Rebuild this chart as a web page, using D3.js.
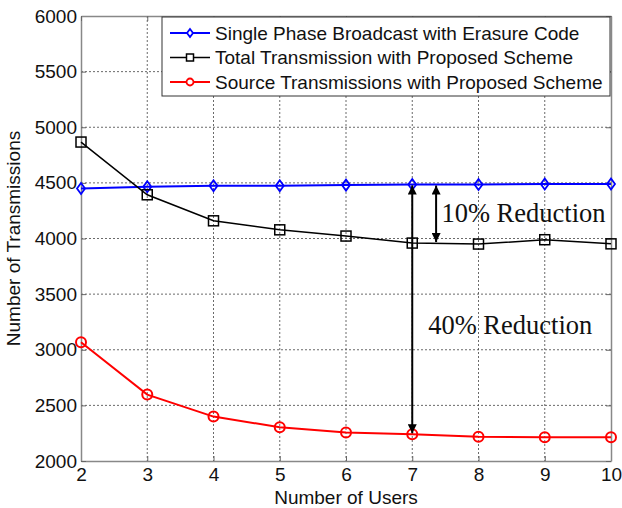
<!DOCTYPE html>
<html>
<head>
<meta charset="utf-8">
<script src="https://cdn.jsdelivr.net/npm/d3@7"></script>
<style>
html, body { margin: 0; padding: 0; background: #fff; }
svg { display: block; }
</style>
</head>
<body>
<div id="chart"></div>
<script>
// ---- Data ----
const users = [2, 3, 4, 5, 6, 7, 8, 9, 10];
const singlePhase = [4450, 4465, 4475, 4475, 4480, 4485, 4485, 4490, 4490];
const totalProposed = [4867, 4393, 4159, 4078, 4022, 3959, 3950, 3989, 3952];
const sourceProposed = [3068, 2597, 2399, 2304, 2256, 2241, 2219, 2214, 2214];
const seriesNames = [
  "Single Phase Broadcast with Erasure Code",
  "Total Transmission with Proposed Scheme",
  "Source Transmissions with Proposed Scheme"
];
const xTicks = [2, 3, 4, 5, 6, 7, 8, 9, 10];
const yTicks = [2000, 2500, 3000, 3500, 4000, 4500, 5000, 5500, 6000];
// annotations (data units)
const annotations = [
  { x: 7, y0: 4485, y1: 2241, label: "40% Reduction", lx: 7.24, ly: 3140 },
  { x: 7.36, y0: 4485, y1: 3959, label: "10% Reduction", lx: 7.44, ly: 4150 }
];

// ---- Layout ----
const W = 622, H = 508;
const margin = { left: 81, right: 11, top: 16, bottom: 47 };
const iw = W - margin.left - margin.right;
const ih = H - margin.top - margin.bottom;
const SANS = "'Liberation Sans', Arial, sans-serif";
const SERIF = "'Liberation Serif', 'Times New Roman', serif";

const svg = d3.select("#chart").append("svg").attr("width", W).attr("height", H)
  .style("font-family", SANS);
const defs = svg.append("defs");
defs.append("marker").attr("id", "ah").attr("viewBox", "0 0 10 10")
  .attr("refX", 10).attr("refY", 5).attr("markerWidth", 10).attr("markerHeight", 9)
  .attr("markerUnits", "userSpaceOnUse").attr("orient", "auto-start-reverse")
  .append("path").attr("d", "M0,0 L10,5 L0,10 Z").attr("fill", "#000");

const g = svg.append("g").attr("transform", `translate(${margin.left},${margin.top})`);

const x = d3.scaleLinear().domain([2, 10]).range([0, iw]);
const y = d3.scaleLinear().domain([2000, 6000]).range([ih, 0]);

// grid
g.append("g").selectAll("line").data(xTicks.slice(1, -1)).join("line")
  .attr("x1", d => x(d)).attr("x2", d => x(d)).attr("y1", 0).attr("y2", ih)
  .attr("stroke", "#444").attr("stroke-width", 0.8).attr("stroke-dasharray", "2,2");
g.append("g").selectAll("line").data(yTicks.slice(1, -1)).join("line")
  .attr("y1", d => y(d)).attr("y2", d => y(d)).attr("x1", 0).attr("x2", iw)
  .attr("stroke", "#444").attr("stroke-width", 0.8).attr("stroke-dasharray", "2,2");

// axes
const axB = g.append("g").attr("transform", `translate(0,${ih})`)
  .call(d3.axisBottom(x).tickValues(xTicks).tickFormat(d3.format("d")).tickSizeInner(-5).tickSizeOuter(0).tickPadding(7));
const axL = g.append("g")
  .call(d3.axisLeft(y).tickValues(yTicks).tickFormat(d3.format("d")).tickSizeInner(-5).tickSizeOuter(0).tickPadding(4));
const axT = g.append("g")
  .call(d3.axisTop(x).tickValues(xTicks).tickFormat("").tickSizeInner(-5).tickSizeOuter(0));
const axR = g.append("g").attr("transform", `translate(${iw},0)`)
  .call(d3.axisRight(y).tickValues(yTicks).tickFormat("").tickSizeInner(-5).tickSizeOuter(0));
[axB, axL, axT, axR].forEach(a => {
  a.select(".domain").attr("stroke", "#888").attr("stroke-width", 1.5);
  a.selectAll(".tick line").attr("stroke", "#666");
  a.selectAll("text").attr("font-size", 19).attr("fill", "#111")
    .style("font-family", SANS);
});
axB.selectAll("text").attr("dy", "0.71em");
axL.selectAll("text").attr("dy", "0.32em");

// series
const series = [
  { name: seriesNames[0], vals: singlePhase, color: "#0000ff", w: 2, marker: "diamond" },
  { name: seriesNames[1], vals: totalProposed, color: "#000000", w: 1.5, marker: "square" },
  { name: seriesNames[2], vals: sourceProposed, color: "#ff0000", w: 2, marker: "circle" }
];
function drawMarker(sel, type, color) {
  if (type === "diamond") {
    sel.append("path").attr("d", "M0,-5.5 L4,0 L0,5.5 L-4,0 Z")
      .attr("fill", "none").attr("stroke", color).attr("stroke-width", 1.8);
  } else if (type === "square") {
    sel.append("rect").attr("x", -5).attr("y", -5).attr("width", 10).attr("height", 10)
      .attr("fill", "none").attr("stroke", color).attr("stroke-width", 1.5);
  } else {
    sel.append("circle").attr("r", 5)
      .attr("fill", "none").attr("stroke", color).attr("stroke-width", 2);
  }
}
const line = d3.line().x(d => x(d[0])).y(d => y(d[1]));
series.forEach(s => {
  const pts = users.map((u, i) => [u, s.vals[i]]);
  g.append("path").datum(pts).attr("d", line)
    .attr("fill", "none").attr("stroke", s.color).attr("stroke-width", s.w);
  g.append("g").selectAll("g").data(pts).join("g")
    .attr("transform", d => `translate(${x(d[0])},${y(d[1])})`)
    .each(function() { drawMarker(d3.select(this), s.marker, s.color); });
});

// annotations
annotations.forEach(a => {
  g.append("line").attr("x1", x(a.x)).attr("x2", x(a.x))
    .attr("y1", y(a.y0) + 1).attr("y2", y(a.y1) - 1)
    .attr("stroke", "#000").attr("stroke-width", 2)
    .attr("marker-start", "url(#ah)").attr("marker-end", "url(#ah)");
  g.append("text").attr("x", x(a.lx)).attr("y", y(a.ly))
    .style("font-family", SERIF)
    .attr("font-size", 26.5).attr("fill", "#111").text(a.label);
});

// legend
const lg = svg.append("g").attr("transform", "translate(162,17)");
lg.append("rect").attr("width", 448).attr("height", 79)
  .attr("fill", "#fff").attr("stroke", "#333").attr("stroke-width", 1);
series.forEach((s, i) => {
  const yy = 16 + i * 24.5;
  lg.append("line").attr("x1", 8).attr("x2", 48).attr("y1", yy).attr("y2", yy)
    .attr("stroke", s.color).attr("stroke-width", s.w);
  const m = lg.append("g").attr("transform", `translate(28,${yy})`);
  if (s.marker === "diamond") {
    m.append("path").attr("d", "M0,-4 L3,0 L0,4 L-3,0 Z").attr("fill", "#fff").attr("stroke", s.color).attr("stroke-width", 1.8);
  } else if (s.marker === "square") {
    m.append("rect").attr("x", -3.5).attr("y", -3.5).attr("width", 7).attr("height", 7).attr("fill", "#fff").attr("stroke", s.color).attr("stroke-width", 1.5);
  } else {
    m.append("circle").attr("r", 3.5).attr("fill", "#fff").attr("stroke", s.color).attr("stroke-width", 1.8);
  }
  lg.append("text").attr("x", 53).attr("y", yy).attr("dy", "0.35em")
    .attr("font-size", 19).attr("fill", "#111").text(s.name);
});

// axis titles
svg.append("text").attr("x", margin.left + iw / 2).attr("y", 504)
  .attr("text-anchor", "middle").attr("font-size", 19).attr("fill", "#111").text("Number of Users");
svg.append("text").attr("transform", `translate(20,${margin.top + ih / 2}) rotate(-90)`)
  .attr("text-anchor", "middle").attr("font-size", 19).attr("fill", "#111").text("Number of Transmissions");
</script>
</body>
</html>
